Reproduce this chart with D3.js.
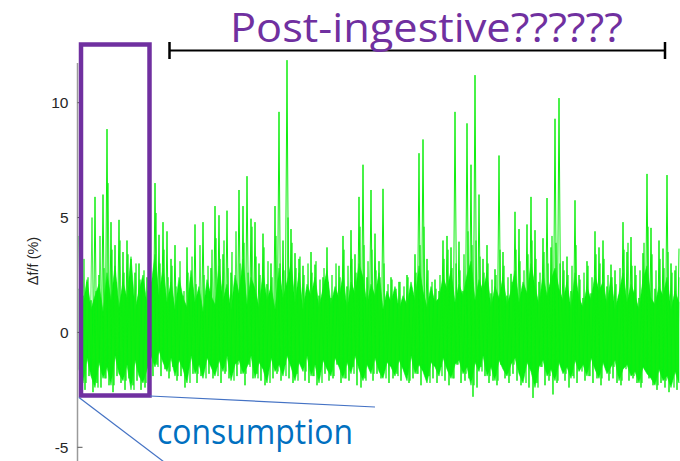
<!DOCTYPE html>
<html>
<head>
<meta charset="utf-8">
<script src="https://cdn.jsdelivr.net/npm/d3@7"></script>
<style>
  body { margin: 0; background: #fff; }
  svg { display: block; }
</style>
</head>
<body>
<svg width="680" height="461"></svg>
<script>
// y ticks
var yTicks = [-5, 0, 5, 10];

// max / min of the trace, one pair every 4 px bin
var peaks = [4.2, 1.6, 2.2, 1.4, 5.9, 2.5, 6.0, 8.85, 4.8, 3.8, 4.9, 3.5, 4.0, 3.2, 2.6, 3.0,
             1.7, 2.4, 1.5, 6.5, 4.25, 4.8, 4.4, 3.2, 3.8, 2.0, 1.6, 3.7, 2.4, 4.7, 1.8, 4.8,
             1.5, 2.8, 5.5, 5.1, 3.4, 5.3, 2.6, 1.9, 6.2, 5.5, 6.8, 4.95, 4.8, 3.0, 4.3, 2.1,
             3.0, 5.5, 9.6, 4.0, 11.85, 4.5, 3.45, 3.2, 2.9, 1.7, 3.5, 2.95, 1.6, 2.4, 3.7, 1.5,
             1.4, 2.9, 4.2, 2.0, 4.45, 3.4, 5.9, 7.3, 2.4, 6.2, 4.3, 3.1, 6.25, 1.6, 2.4, 1.5,
             2.2, 1.4, 2.5, 1.6, 3.4, 7.8, 8.4, 3.2, 1.5, 2.3, 1.8, 4.0, 4.2, 3.7, 9.6, 3.95,
             1.8, 9.1, 7.3, 11.2, 6.0, 3.2, 3.8, 1.7, 2.75, 7.7, 3.5, 1.6, 2.55, 5.25, 4.5, 2.0,
             4.7, 5.9, 4.45, 2.2, 4.1, 5.85, 3.7, 9.3, 10.2, 3.1, 3.3, 1.8, 5.75, 2.5, 1.5, 3.1,
             1.7, 4.4, 3.7, 4.0, 2.0, 2.95, 2.7, 1.6, 4.8, 3.5, 4.15, 2.9, 1.5, 3.45, 6.9, 4.55,
             1.9, 4.0, 3.65, 6.85, 3.0, 2.7, 3.65];
var dips = [-2.3, -2.5, -1.9, -2.6, -2.2, -2.4, -2.0, -2.3, -2.6, -1.9, -2.2, -2.5, -2.0, -2.3, -2.1, -2.5,
            -2.4, -2.2, -1.9, -1.4, -1.9, -1.6, -2.0, -1.5, -2.1, -1.9, -2.4, -1.3, -1.8, -2.2, -1.9, -1.4,
            -1.8, -2.0, -1.5, -2.2, -1.8, -2.0, -1.3, -1.9, -1.8, -2.3, -1.4, -2.0, -1.8, -2.1, -2.3, -1.5,
            -2.0, -1.8, -2.1, -1.4, -2.0, -2.2, -1.8, -1.3, -2.1, -2.2, -1.9, -2.3, -1.5, -1.8, -2.1, -2.0,
            -1.4, -2.2, -2.0, -2.1, -1.5, -2.3, -2.4, -2.0, -1.4, -2.1, -1.8, -2.0, -1.3, -2.2, -2.0, -1.8,
            -2.1, -1.5, -2.2, -2.0, -1.8, -2.3, -1.4, -1.9, -2.0, -2.2, -1.5, -2.1, -2.3, -2.0, -1.4, -2.2,
            -2.1, -2.0, -2.8, -2.4, -1.5, -1.9, -2.2, -2.1, -2.3, -1.4, -2.0, -2.2, -1.8, -2.1, -2.3, -1.5,
            -2.4, -2.85, -2.2, -1.5, -2.3, -2.1, -2.7, -2.2, -1.4, -2.1, -2.4, -1.9, -2.2, -1.5, -2.1, -1.9,
            -2.2, -2.0, -2.3, -1.4, -2.1, -2.0, -2.2, -2.3, -1.5, -2.1, -2.0, -2.2, -2.4, -1.6, -2.0, -2.3,
            -2.5, -2.2, -2.4, -2.6, -1.8, -2.5, -2.4];

// second, smaller maximum in each 4 px bin
var spikes2 = [2.0, 3.2, 2.4, 5.0, 1.8, 4.2, 2.8, 6.5, 3.6, 2.2, 4.0, 2.6, 3.4, 1.9, 3.0, 2.3, 2.7, 1.8,
               2.2, 5.2, 3.0, 3.6, 2.4, 2.9, 2.0, 3.1, 1.8, 2.6, 3.3, 2.1, 3.8, 2.5, 2.9, 3.6, 4.1, 3.2,
               4.0, 2.8, 3.5, 4.4, 3.0, 3.9, 2.6, 4.6, 3.3, 2.5, 3.7, 3.1, 2.4, 4.2, 3.0, 2.7, 5.0, 3.9,
               2.8, 3.3, 2.5, 3.0, 2.6, 3.1, 2.3, 2.8, 2.2, 2.5, 3.0, 2.4, 3.6, 2.9, 3.2, 2.6, 4.6, 3.8,
               3.1, 3.6, 2.7, 2.4, 3.0, 2.1, 2.3, 1.9, 2.2, 2.0, 2.4, 1.8, 2.6, 3.8, 4.6, 2.7, 2.2, 1.9,
               2.5, 3.2, 3.6, 2.8, 3.0, 2.7, 3.4, 4.4, 3.8, 4.0, 3.3, 2.6, 3.0, 2.3, 2.5, 3.6, 2.9, 2.4,
               2.2, 3.6, 3.1, 2.7, 3.4, 4.0, 3.2, 2.6, 3.5, 3.0, 4.2, 3.9, 3.0, 2.7, 2.5, 2.9, 3.8, 2.3,
               2.6, 2.9, 2.4, 3.4, 3.0, 3.2, 2.5, 2.4, 2.1, 2.8, 3.6, 3.9, 2.9, 2.5, 2.7, 3.9, 4.6, 3.4,
               2.7, 3.2, 2.8, 3.5, 2.6, 2.9, 2.4];

// upper / lower edge of the dense band in each 4 px bin
var midHi = [1.9, 1.2, 2.3, 1.0, 1.6, 2.1, 0.9, 2.6, 1.4, 2.9, 1.1, 2.2, 1.5, 3.3, 1.0, 1.8, 2.5, 1.2,
             2.0, 3.4, 1.6, 2.8, 1.3, 2.2, 1.0, 2.4, 1.5, 1.1, 2.7, 1.3, 2.0, 0.9, 2.3, 1.6, 1.2, 2.9,
             1.4, 2.1, 1.0, 2.5, 1.7, 3.2, 1.2, 2.4, 1.9, 1.1, 2.6, 1.4, 2.0, 1.0, 2.8, 1.5, 2.2, 3.0,
             1.3, 2.6, 1.0, 2.1, 1.6, 2.4, 1.1, 1.9, 2.7, 1.2, 2.0, 1.5, 2.5, 1.0, 2.2, 1.7, 3.0, 2.4,
             1.2, 2.1, 1.6, 2.6, 1.0, 1.8, 1.3, 2.0, 1.0, 1.6, 1.2, 2.2, 1.4, 2.9, 1.8, 1.1, 2.0, 1.3,
             1.5, 2.4, 1.9, 2.7, 1.3, 2.1, 1.6, 2.5, 3.1, 1.4, 2.3, 1.8, 2.6, 1.1, 2.0, 1.5, 2.4, 1.2,
             1.8, 2.7, 1.3, 2.2, 1.7, 3.0, 2.0, 1.2, 2.5, 1.6, 2.3, 2.8, 1.9, 1.4, 2.2, 1.0, 2.6, 1.5,
             1.1, 2.0, 1.4, 2.5, 1.8, 2.2, 1.2, 2.4, 1.0, 1.7, 2.6, 1.3, 2.1, 1.6, 1.0, 2.3, 2.9, 1.5,
             1.2, 2.0, 1.6, 2.4, 1.0, 1.8, 1.3];
var midLo = [-1.6, -2.2, -1.1, -1.9, -2.4, -1.3, -2.0, -1.5, -2.3, -1.0, -1.8, -2.1, -1.4, -2.5, -1.2, -1.9, -2.2, -1.6,
             -1.0, -1.5, -0.8, -1.3, -1.7, -1.1, -1.9, -1.2, -1.6, -2.2, -1.0, -1.8, -1.4, -2.0, -1.1, -1.5, -1.9, -1.2,
             -1.7, -1.0, -2.1, -1.4, -1.2, -1.8, -1.5, -1.0, -2.0, -1.3, -1.6, -2.2, -1.1, -1.7, -1.4, -1.9, -1.0, -1.5,
             -2.1, -1.3, -1.7, -1.0, -1.9, -1.4, -2.2, -1.2, -1.6, -1.9, -1.1, -1.5, -2.0, -1.3, -1.8, -1.0, -1.6, -2.1,
             -1.4, -1.8, -1.1, -1.7, -2.0, -1.3, -1.5, -1.9, -1.2, -1.6, -2.1, -1.0, -1.8, -1.4, -1.7, -2.2, -1.3, -1.5,
             -1.9, -1.1, -1.6, -2.0, -1.4, -1.2, -1.8, -1.5, -2.3, -1.3, -1.7, -1.0, -1.9, -1.5, -2.1, -1.2, -1.6, -1.9,
             -1.4, -1.1, -1.8, -2.2, -1.3, -1.7, -2.4, -1.5, -1.2, -1.9, -1.6, -2.1, -1.3, -1.8, -1.5, -2.0, -1.2, -1.7,
             -1.4, -1.9, -1.1, -1.6, -2.0, -1.3, -1.8, -1.5, -1.2, -2.1, -1.6, -1.4, -1.9, -1.7, -2.2, -1.5, -1.8, -2.0,
             -2.3, -1.6, -2.1, -1.9, -2.4, -1.7, -2.2];

var svg = d3.select("svg"),
    width = +svg.attr("width"),
    height = +svg.attr("height");

var x0 = 79, x1 = 680;

var y = d3.scaleLinear().domain([-5, 10]).range([447.3, 102.7]);
var xBin = d3.scaleLinear().domain([0, peaks.length - 1]).range([x0, x1 - 1]);

var green = "#10ee10";

// dense band, jagged edges
svg.append("path")
    .datum(midHi.map(function(d, i) { return { i: i, top: d, bottom: midLo[i] }; }))
    .attr("fill", "#05f010")
    .attr("stroke", "#05f010")
    .attr("stroke-width", 0.6)
    .attr("d", d3.area()
        .x(function(d) { return xBin(d.i); })
        .y0(function(d) { return y(d.bottom); })
        .y1(function(d) { return y(d.top); }));

// zigzag hi -> lo -> next hi
function zigzag(hi, lo, offset) {
    var pts = [];
    hi.forEach(function(d, i) {
        pts.push([i + offset, d]);
        if (i < hi.length - 1) pts.push([i + offset + 0.5, lo[i]]);
    });
    return pts;
}

var line = d3.line()
    .x(function(d) { return xBin(Math.min(d[0], peaks.length - 1)); })
    .y(function(d) { return y(d[1]); });

svg.append("path")
    .datum(zigzag(spikes2, midLo, 0.25))
    .attr("fill", "none")
    .attr("stroke", green)
    .attr("stroke-width", 0.9)
    .attr("stroke-opacity", 0.85)
    .attr("d", line);

svg.append("path")
    .datum(zigzag(peaks, dips, 0))
    .attr("fill", "none")
    .attr("stroke", green)
    .attr("stroke-width", 1)
    .attr("d", line);

// y axis, ticks pointing inward
var axis = svg.append("g").attr("transform", "translate(77.5,0)");
axis.append("line")
    .attr("y1", y(11.73)).attr("y2", height)
    .attr("stroke", "#9a9a9a").attr("stroke-width", 1.5);
axis.selectAll(".tick").data(yTicks).enter().append("line")
    .attr("x1", 0).attr("x2", 5)
    .attr("y1", function(d) { return y(d); })
    .attr("y2", function(d) { return y(d); })
    .attr("stroke", "#555").attr("stroke-width", 1);
axis.selectAll(".lbl").data(yTicks).enter().append("text")
    .attr("x", -9)
    .attr("y", function(d) { return y(d); })
    .attr("dy", "0.36em")
    .attr("text-anchor", "end")
    .style("font-family", "Liberation Sans, Arial, sans-serif")
    .style("font-size", "15.5px")
    .style("fill", "#262626")
    .text(function(d) { return d; });

svg.append("text")
    .attr("transform", "translate(38,261) rotate(-90)")
    .attr("text-anchor", "middle")
    .style("font-family", "Liberation Sans, Arial, sans-serif")
    .style("font-size", "14.5px")
    .style("fill", "#262626")
    .text("\u0394f/f (%)");

// consumption box and zoom lines
svg.append("rect")
    .attr("x", 81).attr("y", 44.5)
    .attr("width", 68.5).attr("height", 351)
    .attr("fill", "none")
    .attr("stroke", "#7030a0")
    .attr("stroke-width", 4.5);

svg.append("line")
    .attr("x1", 79).attr("y1", 397.5).attr("x2", 172).attr("y2", 468)
    .attr("stroke", "#4472c4").attr("stroke-width", 1.2);
svg.append("line")
    .attr("x1", 150).attr("y1", 396).attr("x2", 375).attr("y2", 407)
    .attr("stroke", "#4472c4").attr("stroke-width", 1.2);

svg.append("text")
    .attr("x", 157).attr("y", 444)
    .attr("textLength", 196).attr("lengthAdjust", "spacingAndGlyphs")
    .style("font-family", "Open Sans, sans-serif")
    .style("font-size", "35px")
    .style("fill", "#0070c0")
    .text("consumption");

// post-ingestive bracket
var br = svg.append("g").attr("stroke", "#000");
br.append("line").attr("x1", 169.5).attr("x2", 665).attr("y1", 50.5).attr("y2", 50.5).attr("stroke-width", 2);
br.append("line").attr("x1", 169.5).attr("x2", 169.5).attr("y1", 42).attr("y2", 59).attr("stroke-width", 2.5);
br.append("line").attr("x1", 665).attr("x2", 665).attr("y1", 42).attr("y2", 59).attr("stroke-width", 2.5);

svg.append("text")
    .attr("x", 230).attr("y", 42)
    .attr("textLength", 393).attr("lengthAdjust", "spacingAndGlyphs")
    .style("font-family", "Open Sans, sans-serif")
    .style("font-size", "40px")
    .style("fill", "#7030a0")
    .text("Post-ingestive??????");
</script>
</body>
</html>
